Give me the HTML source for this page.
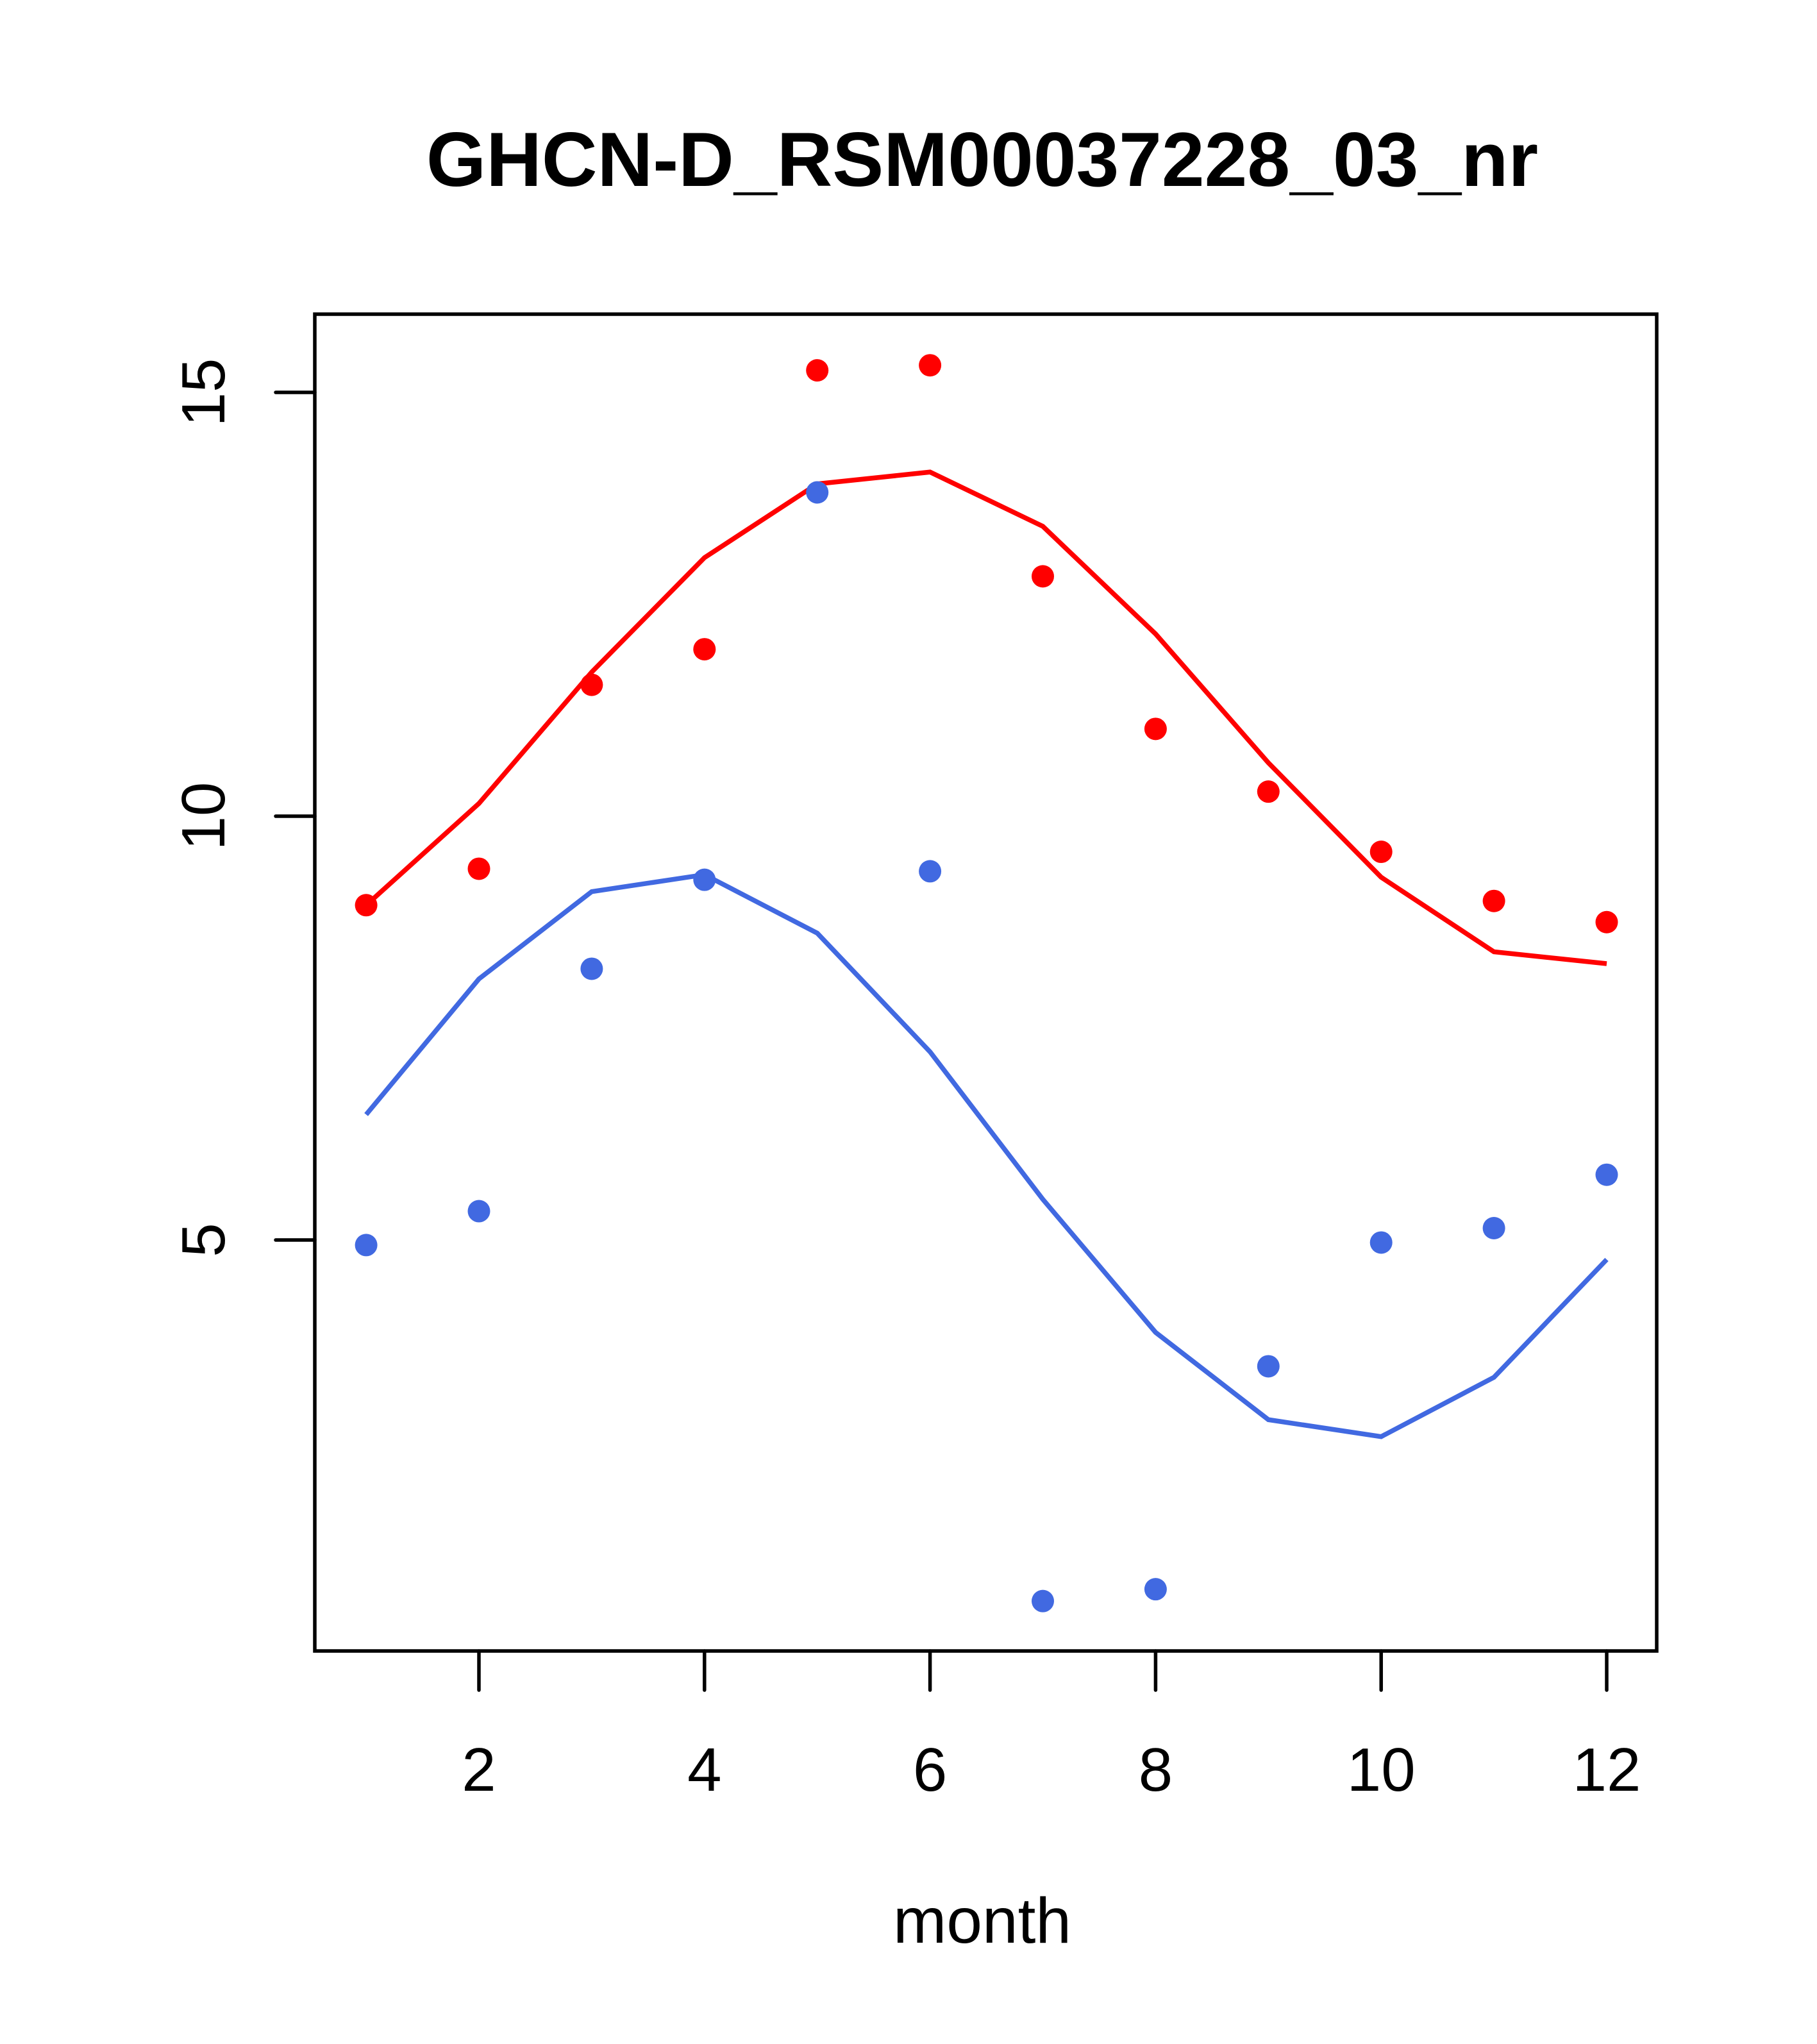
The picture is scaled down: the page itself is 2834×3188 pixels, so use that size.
<!DOCTYPE html>
<html><head><meta charset="utf-8"><style>html,body{margin:0;padding:0;background:#fff}svg{display:block}</style></head>
<body>
<svg id="chart" width="2834" height="3188" viewBox="0 0 2834 3188" xmlns="http://www.w3.org/2000/svg" font-family="Liberation Sans, sans-serif">
<rect width="2834" height="3188" fill="#fff"/>
<text x="1532" y="290" font-size="120" font-weight="bold" text-anchor="middle">GHCN-D_RSM00037228_03_nr</text>
<text x="1532" y="3030" font-size="100" text-anchor="middle">month</text>
<g id="plot"></g>
</svg>
<script>
const months=[1,2,3,4,5,6,7,8,9,10,11,12];
const redPoints=[8.95,9.38,11.55,11.97,15.26,15.32,12.83,11.03,10.29,9.58,9.0,8.75];
const redLine=[8.95,10.15,11.7,13.05,13.92,14.06,13.42,12.15,10.63,9.28,8.4,8.26];
const bluePoints=[4.94,5.34,8.2,9.25,13.82,9.35,0.74,0.88,3.51,4.97,5.14,5.77];
const blueLine=[6.48,8.08,9.11,9.31,8.62,7.22,5.48,3.91,2.88,2.68,3.38,4.77];
const xTicks=[2,4,6,8,10,12];
const yTicks=[5,10,15];
const NS='http://www.w3.org/2000/svg';
const g=document.getElementById('plot');
const X=m=>747+(m-2)*175.9;
const Y=v=>1273-(v-10)*132.2;
const L=491,R=2584,T=490,B=2575;
function mk(tag,attrs){const e=document.createElementNS(NS,tag);for(const k in attrs)e.setAttribute(k,attrs[k]);g.appendChild(e);return e;}
const box=mk('rect',{x:L,y:T,width:R-L,height:B-T,fill:'none',stroke:'#000','stroke-width':5.5});


xTicks.forEach(t=>{
 const l=mk('line',{x1:X(t),x2:X(t),y1:B,y2:B+61,stroke:'#000','stroke-width':5.5,'stroke-linecap':'round'});
 
 
 const tx=mk('text',{x:X(t),y:2793,'font-size':96,'text-anchor':'middle'});tx.textContent=t;
 
 
});
yTicks.forEach(t=>{
 const l=mk('line',{x1:L-61,x2:L,y1:Y(t),y2:Y(t),stroke:'#000','stroke-width':5.5,'stroke-linecap':'round'});
 
 
 const tx=mk('text',{x:0,y:0,'font-size':96,'text-anchor':'middle',transform:`translate(350,${Y(t)}) rotate(-90)`});tx.textContent=t;
 
 
});
function line(vals,col,name){
 const p=mk('polyline',{points:vals.map((v,i)=>X(months[i])+','+Y(v)).join(' '),fill:'none',stroke:col,'stroke-width':7.5});
 
 
}
function pts(vals,col,name){
 vals.forEach((v,i)=>{const c=mk('circle',{cx:X(months[i]),cy:Y(v),r:17.5,fill:col});
 
 });
}
line(redLine,'#ff0000','red-line');
line(blueLine,'#4169e1','blue-line');
pts(redPoints,'#ff0000','red-point');
pts(bluePoints,'#4169e1','blue-point');
</script>
</body></html>
